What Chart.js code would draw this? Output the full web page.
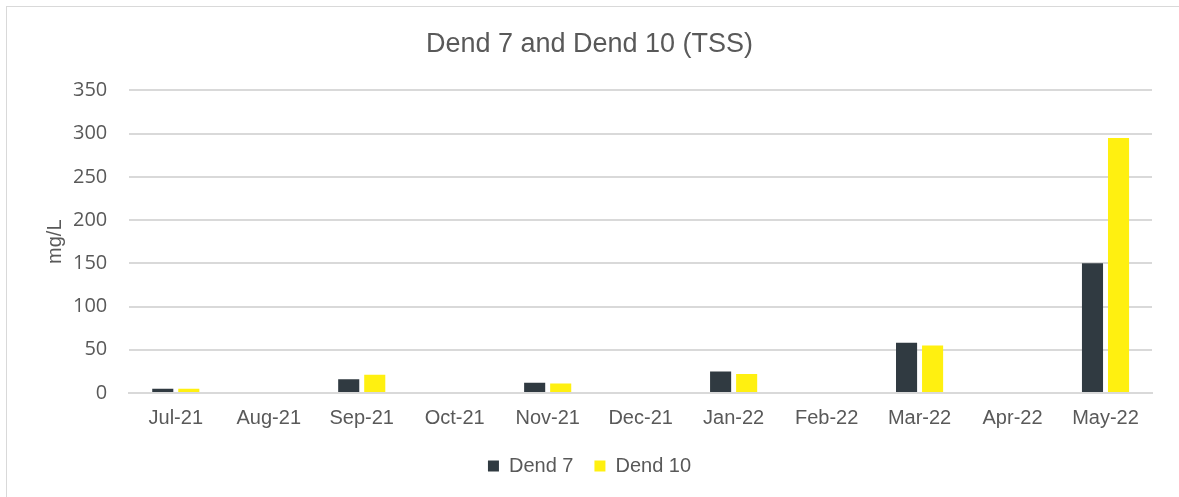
<!DOCTYPE html>
<html lang="en">
<head>
  <meta charset="UTF-8" />
  <title>Dend 7 and Dend 10 (TSS)</title>
  <script src="https://cdn.jsdelivr.net/npm/chart.js"></script>
  <style>
    html, body { margin: 0; padding: 0; background: #fff; }
    #frame {
      position: absolute; left: 6px; top: 6px; width: 1173px; height: 491px;
      border-left: 1px solid #d9d9d9; border-top: 1px solid #d9d9d9; box-sizing: border-box;
    }
    #wrap { position: absolute; left: 0; top: 0; width: 1179px; height: 497px; }
  </style>
</head>
<body>
  <div id="frame"></div>
  <div id="wrap"><canvas id="tssChart"></canvas></div>

  <script>
    // months sampled
    const months = ['Jul-21', 'Aug-21', 'Sep-21', 'Oct-21', 'Nov-21', 'Dec-21',
                    'Jan-22', 'Feb-22', 'Mar-22', 'Apr-22', 'May-22'];
    // TSS in mg/L, null = no sample
    const dend7 = [5, null, 16, null, 12, null, 25, null, 58, null, 150];
    const dend10 = [5, null, 21, null, 11, null, 22, null, 55, null, 295];
    const yTicks = [0, 50, 100, 150, 200, 250, 300, 350];

    const arial = 'Liberation Sans, Arial, sans-serif';

    const ctx = document.getElementById('tssChart').getContext('2d');
    new Chart(ctx, {
      type: 'bar',
      data: {
        labels: months,
        datasets: [
          { label: 'Dend 7', data: dend7, backgroundColor: '#303a41' },
          { label: 'Dend 10', data: dend10, backgroundColor: '#fff010' }
        ]
      },
      options: {
        responsive: true,
        maintainAspectRatio: false,
        animation: false,
        categoryPercentage: 0.56,
        barPercentage: 0.81,
        layout: { padding: { left: 27, right: 27, top: 0, bottom: 11 } },
        plugins: {
          title: {
            display: true,
            text: 'Dend 7 and Dend 10 (TSS)',
            color: '#595959',
            font: { family: arial, size: 27, weight: 'normal' },
            padding: { top: 28, bottom: 30 }
          },
          legend: {
            position: 'bottom',
            labels: {
              color: '#595959',
              font: { family: arial, size: 20 },
              boxWidth: 11, boxHeight: 11, padding: 21
            }
          },
          tooltip: { enabled: false }
        },
        scales: {
          x: {
            grid: { display: false },
            border: { color: '#d9d9d9', width: 2 },
            ticks: {
              color: '#595959', maxRotation: 0, padding: 5,
              font: { family: arial, size: 20 }
            }
          },
          y: {
            min: 0,
            max: 350,
            afterBuildTicks: axis => { axis.ticks = yTicks.map(v => ({ value: v })); },
            grid: { color: '#d9d9d9', lineWidth: 2, drawTicks: false },
            border: { display: false },
            ticks: {
              color: '#595959', padding: 22,
              font: { family: 'Open Sans, sans-serif', size: 20 }
            },
            title: {
              display: true, text: 'mg/L', color: '#595959',
              font: { family: arial, size: 20 },
              padding: { top: 16, bottom: -16 }
            }
          }
        }
      }
    });
  </script>
</body>
</html>
